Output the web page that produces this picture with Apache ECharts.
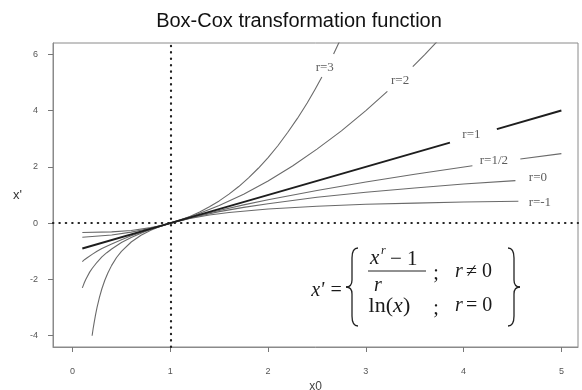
<!DOCTYPE html>
<html>
<head>
<meta charset="utf-8">
<script src="https://cdn.jsdelivr.net/npm/echarts@6/dist/echarts.min.js"></script>
<style>
  html, body { margin: 0; padding: 0; background: #fff; }
  #chart { width: 582px; height: 390px; }
</style>
</head>
<body>
<div id="chart"></div>
<script>
// tick labels
const xTicks = [0, 1, 2, 3, 4, 5]
const yTicks = [-4, -2, 0, 2, 4, 6]

// curves (null = gap where a label sits)
const r3X = [0.1, 0.4, 0.6, 0.8, 0.9, 1, 1.1, 1.2, 1.3, 1.4, 1.5, 1.6, 1.7, 1.8, 1.9, 2, 2.1, 2.2, 2.3, 2.4, 2.48, 2.55, null, 2.67, 2.75]
const r3Y = [-0.33, -0.31, -0.26, -0.16, -0.09, 0, 0.11, 0.24, 0.4, 0.58, 0.79, 1.03, 1.3, 1.61, 1.95, 2.33, 2.75, 3.22, 3.72, 4.27, 4.75, 5.19, null, 6.01, 6.6]

const r2X = [0.1, 0.4, 0.6, 0.8, 1, 1.25, 1.5, 1.75, 2, 2.25, 2.5, 2.75, 3, 3.22, null, 3.48, 3.6, 3.75]
const r2Y = [-0.5, -0.42, -0.32, -0.18, 0, 0.28, 0.63, 1.03, 1.5, 2.03, 2.63, 3.28, 4, 4.68, null, 5.56, 5.98, 6.53]

const r1X = [0.1, 1, 3.86, null, 4.34, 5]
const r1Y = [-0.9, 0, 2.86, null, 3.34, 4]

const rHalfX = [0.1, 0.125, 0.15, 0.2, 0.25, 0.3, 0.4, 0.5, 0.6, 0.7, 0.85, 1, 1.25, 1.5, 1.75, 2, 2.5, 3, 3.5, 4.09, null, 4.58, 5]
const rHalfY = [-1.37, -1.29, -1.23, -1.11, -1, -0.9, -0.74, -0.59, -0.45, -0.33, -0.16, 0, 0.24, 0.45, 0.65, 0.83, 1.16, 1.46, 1.74, 2.04, null, 2.28, 2.47]

const r0X = [0.1, 0.11, 0.12, 0.135, 0.15, 0.175, 0.2, 0.25, 0.3, 0.35, 0.4, 0.5, 0.6, 0.7, 0.8, 0.9, 1, 1.25, 1.5, 1.75, 2, 2.5, 3, 3.5, 4, 4.53]
const r0Y = [-2.3, -2.21, -2.12, -2, -1.9, -1.74, -1.61, -1.39, -1.2, -1.05, -0.92, -0.69, -0.51, -0.36, -0.22, -0.11, 0, 0.22, 0.41, 0.56, 0.69, 0.92, 1.1, 1.25, 1.39, 1.51]

const rm1X = [0.2, 0.21, 0.22, 0.235, 0.25, 0.275, 0.3, 0.33, 0.36, 0.4, 0.45, 0.5, 0.6, 0.7, 0.8, 0.9, 1, 1.2, 1.4, 1.6, 2, 2.5, 3, 3.5, 4, 4.56]
const rm1Y = [-4, -3.76, -3.55, -3.26, -3, -2.64, -2.33, -2.03, -1.78, -1.5, -1.22, -1, -0.67, -0.43, -0.25, -0.11, 0, 0.17, 0.29, 0.38, 0.5, 0.6, 0.67, 0.71, 0.75, 0.78]

// curve labels
const labelNames = ['r=3', 'r=2', 'r=1', 'r=1/2', 'r=0', 'r=-1']
const labelX = [2.58, 3.35, 4.08, 4.31, 4.76, 4.78]
const labelY = [5.52, 5.06, 3.14, 2.22, 1.62, 0.74]

// reference lines
const refX = 1
const refY = 0

const toPairs = (xs, ys) => xs.map((x, i) => (x === null ? ['-', '-'] : [x, ys[i]]))

const curve = (name, xs, ys, thick) => ({
  name: name,
  type: 'line',
  data: toPairs(xs, ys),
  smooth: false,
  showSymbol: false,
  connectNulls: false,
  silent: true,
  lineStyle: { color: thick ? '#1e1e1e' : '#6a6a6a', width: thick ? 2 : 1.1, join: 'round' },
  z: thick ? 4 : 3
})

const serif = 'Liberation Serif, Times New Roman, serif'
const sans = 'Liberation Sans, Arial, sans-serif'

const chart = echarts.init(document.getElementById('chart'))

// left / right braces of the formula
const braceParts = (x0, dir) => {
  const s = dir // 1 = left brace, -1 = right brace
  const st = { stroke: '#222', lineWidth: 1.3, fill: null }
  return [
    { type: 'bezierCurve', shape: { x1: x0 + 12 * s, y1: 248, cpx1: x0 + 7 * s, cpy1: 248, cpx2: x0 + 6 * s, cpy2: 252, x2: x0 + 6 * s, y2: 258 }, style: st },
    { type: 'line', shape: { x1: x0 + 6 * s, y1: 258, x2: x0 + 6 * s, y2: 280 }, style: st },
    { type: 'bezierCurve', shape: { x1: x0 + 6 * s, y1: 280, cpx1: x0 + 6 * s, cpy1: 284, cpx2: x0 + 4 * s, cpy2: 287, x2: x0, y2: 287 }, style: st },
    { type: 'bezierCurve', shape: { x1: x0, y1: 287, cpx1: x0 + 4 * s, cpy1: 287, cpx2: x0 + 6 * s, cpy2: 290, x2: x0 + 6 * s, y2: 294 }, style: st },
    { type: 'line', shape: { x1: x0 + 6 * s, y1: 294, x2: x0 + 6 * s, y2: 316 }, style: st },
    { type: 'bezierCurve', shape: { x1: x0 + 6 * s, y1: 316, cpx1: x0 + 6 * s, cpy1: 322, cpx2: x0 + 7 * s, cpy2: 326, x2: x0 + 12 * s, y2: 326 }, style: st }
  ]
}

const ftext = (x, y, text, size, italic, align) => ({
  type: 'text',
  x: x,
  y: y,
  style: {
    text: text,
    font: (italic ? 'italic ' : '') + size + 'px ' + serif,
    fill: '#1a1a1a',
    align: align || 'left',
    verticalAlign: 'middle'
  }
})

const option = {
  animation: false,
  backgroundColor: '#fff',
  title: {
    text: 'Box-Cox transformation function',
    left: 294,
    textAlign: 'center',
    top: 6,
    textStyle: { fontFamily: sans, fontSize: 20, fontWeight: 'normal', color: '#111' }
  },
  grid: {
    left: 53,
    right: 4,
    top: 43,
    bottom: 43,
    show: true,
    borderColor: '#8a8a8a',
    borderWidth: 1,
    containLabel: false,
    outerBoundsMode: 'none'
  },
  xAxis: {
    type: 'value',
    min: -0.2,
    max: 5.17,
    name: 'x0',
    nameLocation: 'middle',
    nameGap: 25,
    nameTextStyle: { fontFamily: sans, fontSize: 12, color: '#444' },
    axisLine: { show: true, onZero: false, lineStyle: { color: '#8a8a8a' } },
    axisTick: { show: true, length: 5, customValues: xTicks, lineStyle: { color: '#777' } },
    axisLabel: { customValues: xTicks, margin: 20, fontSize: 9, color: '#555', fontFamily: sans },
    splitLine: { show: false }
  },
  yAxis: {
    type: 'value',
    min: -4.4,
    max: 6.4,
    name: "x'",
    nameLocation: 'middle',
    nameGap: 31,
    nameRotate: 0,
    nameTextStyle: { fontFamily: sans, fontSize: 13, color: '#333' },
    axisLine: { show: true, onZero: false, lineStyle: { color: '#8a8a8a' } },
    axisTick: { show: true, length: 5, customValues: yTicks, lineStyle: { color: '#777' } },
    axisLabel: { customValues: yTicks, margin: 15, fontSize: 9, color: '#555', fontFamily: sans },
    splitLine: { show: false }
  },
  series: [
    {
      name: 'ref',
      type: 'line',
      data: [],
      silent: true,
      markLine: {
        silent: true,
        symbol: 'none',
        label: { show: false },
        lineStyle: { color: '#222', type: [0.4, 6], width: 2.2, cap: 'round' },
        data: [{ xAxis: refX }, { yAxis: refY }]
      }
    },
    curve('r=3', r3X, r3Y, false),
    curve('r=2', r2X, r2Y, false),
    curve('r=1', r1X, r1Y, true),
    curve('r=1/2', rHalfX, rHalfY, false),
    curve('r=0', r0X, r0Y, false),
    curve('r=-1', rm1X, rm1Y, false),
    {
      name: 'labels',
      type: 'scatter',
      symbolSize: 0,
      silent: true,
      data: labelNames.map((n, i) => [labelX[i], labelY[i], n]),
      label: {
        show: true,
        position: 'inside',
        formatter: p => p.data[2],
        fontFamily: serif,
        fontSize: 13,
        color: '#333'
      },
      z: 5
    }
  ],
  graphic: {
    elements: [
      ftext(327, 291, "x' =", 20, true, 'center'),
      ...braceParts(346, 1),
      ftext(370, 258, 'x', 21, true),
      ftext(381, 251, 'r', 12, true),
      ftext(390, 259, '\u2212 1', 21, false),
      { type: 'line', shape: { x1: 368, y1: 271, x2: 426, y2: 271 }, style: { stroke: '#222', lineWidth: 1 } },
      ftext(378, 286, 'r', 20, true, 'center'),
      ftext(393, 306, 'ln(', 22, false, 'right'),
      ftext(393, 306, 'x', 22, true),
      ftext(403, 306, ')', 22, false),
      ftext(436, 274, ';', 20, false, 'center'),
      ftext(455, 272, 'r', 20, true),
      ftext(466, 272, '\u2260 0', 20, false),
      ftext(436, 309, ';', 20, false, 'center'),
      ftext(455, 306, 'r', 20, true),
      ftext(466, 306, '= 0', 20, false),
      ...braceParts(520, -1)
    ]
  }
}

chart.setOption(option)

window.addEventListener('resize', () => {
  chart.resize()
})
</script>
</body>
</html>
